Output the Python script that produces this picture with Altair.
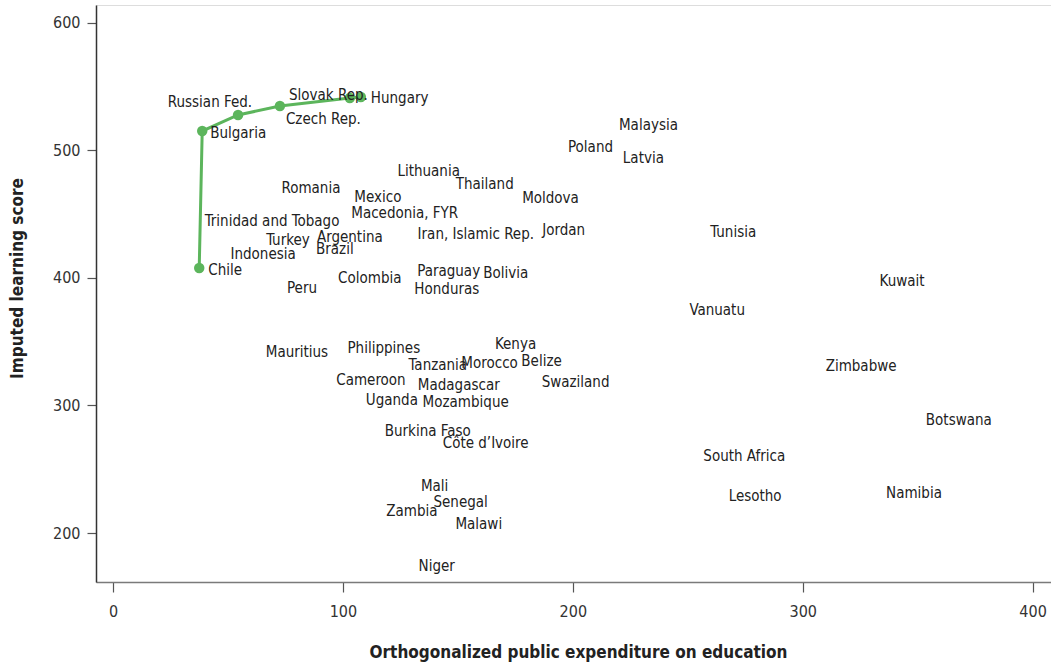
import altair as alt
import pandas as pd

# Countries shown as labels only
countries = [
    "Malaysia", "Poland", "Latvia", "Lithuania", "Thailand", "Romania", "Mexico",
    "Moldova", "Macedonia, FYR", "Trinidad and Tobago", "Iran, Islamic Rep.",
    "Jordan", "Tunisia", "Argentina", "Turkey", "Brazil", "Indonesia", "Paraguay",
    "Bolivia", "Colombia", "Kuwait", "Honduras", "Peru", "Vanuatu", "Kenya",
    "Mauritius", "Philippines", "Belize", "Tanzania", "Morocco", "Zimbabwe",
    "Cameroon", "Swaziland", "Madagascar", "Uganda", "Mozambique", "Botswana",
    "Burkina Faso", "Côte d’Ivoire", "South Africa", "Mali", "Lesotho", "Namibia",
    "Senegal", "Zambia", "Malawi", "Niger",
]
expenditure = [
    232.9, 207.7, 230.7, 137.3, 161.7, 86.1, 115.2,
    190.3, 126.9, 69.2, 157.8,
    196.0, 269.8, 103.0, 76.1, 96.5, 65.3, 146.0,
    170.8, 111.7, 343.2, 145.2, 82.2, 262.8, 175.1,
    80.0, 117.8, 186.4, 141.3, 163.8, 325.4,
    112.2, 201.2, 150.4, 121.3, 153.4, 367.9,
    136.9, 162.1, 274.6, 139.9, 279.3, 348.4,
    151.2, 130.0, 159.1, 140.8,
]
score = [
    519.8, 502.6, 494.0, 483.8, 473.6, 470.5, 463.4,
    462.6, 450.9, 444.6, 434.4,
    437.5, 436.0, 432.1, 429.7, 422.6, 418.7, 405.4,
    403.8, 399.9, 397.6, 391.3, 392.1, 374.8, 348.2,
    341.9, 345.1, 334.9, 331.7, 333.3, 331.0,
    320.0, 318.4, 316.1, 304.3, 302.7, 288.6,
    280.0, 270.6, 260.4, 236.9, 229.1, 231.4,
    224.4, 217.3, 207.1, 174.2,
]

# Efficiency frontier
frontier_countries = ["Chile", "Bulgaria", "Russian Fed.", "Czech Rep.", "Slovak Rep.", "Hungary"]
frontier_expenditure = [37.5, 38.8, 54.4, 72.6, 103.0, 107.8]
frontier_score = [407.8, 515.1, 527.7, 534.7, 541.0, 541.8]

FONT = "Liberation Sans Narrow, DejaVu Sans Condensed, Roboto, sans-serif"
GREEN = "#5cb55c"
TEXT_SIZE = 15
TICK_SIZE = 16

others = pd.DataFrame({"country": countries, "x": expenditure, "y": score})
frontier = pd.DataFrame({
    "country": frontier_countries,
    "x": frontier_expenditure,
    "y": frontier_score,
    "order": list(range(len(frontier_countries))),
})

x_scale = alt.Scale(domain=[-7.4, 408], nice=False, zero=False)
y_scale = alt.Scale(domain=[161.6, 613.9], nice=False, zero=False)

x_enc = alt.X(
    "x:Q", scale=x_scale,
    axis=alt.Axis(
        title="Orthogonalized public expenditure on education",
        values=[0, 100, 200, 300, 400], grid=False,
        domainColor="#7a7a7a", domainWidth=1.5, tickColor="#555555", tickWidth=1.2,
        tickSize=10, labelPadding=11, labelFont=FONT, labelFontSize=TICK_SIZE,
        labelColor="#333333", titleFont=FONT, titleFontSize=17, titleFontWeight="bold",
        titleColor="#222222", titleX=482, titleY=70, titleBaseline="middle",
        titleAnchor="middle", titleAngle=0,
    ),
)
y_enc = alt.Y(
    "y:Q", scale=y_scale,
    axis=alt.Axis(
        title="Imputed learning score",
        values=[200, 300, 400, 500, 600], grid=False,
        domainColor="#333333", domainWidth=1.5, tickColor="#555555", tickWidth=1.2,
        tickSize=9, labelPadding=7, labelFont=FONT, labelFontSize=TICK_SIZE,
        labelColor="#333333", titleFont=FONT, titleFontSize=17, titleFontWeight="bold",
        titleColor="#222222", titleX=-79, titleY=273, titleBaseline="middle",
        titleAngle=-90, titleAnchor="middle",
    ),
)

labels = alt.Chart(others).mark_text(
    font=FONT, fontSize=TEXT_SIZE, color="#222222", align="center", baseline="middle"
).encode(x=x_enc, y=y_enc, text="country:N")

line = alt.Chart(frontier).mark_line(color=GREEN, strokeWidth=3).encode(
    x=x_enc, y=y_enc, order="order:Q"
)
dots = alt.Chart(frontier).mark_circle(color=GREEN, opacity=1, size=110).encode(
    x=x_enc, y=y_enc
)

# Frontier labels sit beside their dots
offsets = {
    "Chile": ("left", 9, 2),
    "Bulgaria": ("left", 8, 2),
    "Russian Fed.": ("right", 14, -13),
    "Czech Rep.": ("left", 6, 13),
    "Slovak Rep.": ("right", 18, -3),
    "Hungary": ("left", 10, 1),
}
frontier_labels = []
for name, (align, dx, dy) in offsets.items():
    frontier_labels.append(
        alt.Chart(frontier[frontier["country"] == name]).mark_text(
            font=FONT, fontSize=TEXT_SIZE, color="#222222", align=align,
            baseline="middle", dx=dx, dy=dy,
        ).encode(x=x_enc, y=y_enc, text="country:N")
    )

chart = alt.layer(line, dots, labels, *frontier_labels).properties(
    width=955, height=577,
    autosize=alt.AutoSizeParams(type="none"),
    padding={"left": 96, "top": 5, "right": 0, "bottom": 82},
).configure_view(stroke=None).configure(background="white")

chart.save("out.html", embed_options={"renderer": "svg", "actions": False})
